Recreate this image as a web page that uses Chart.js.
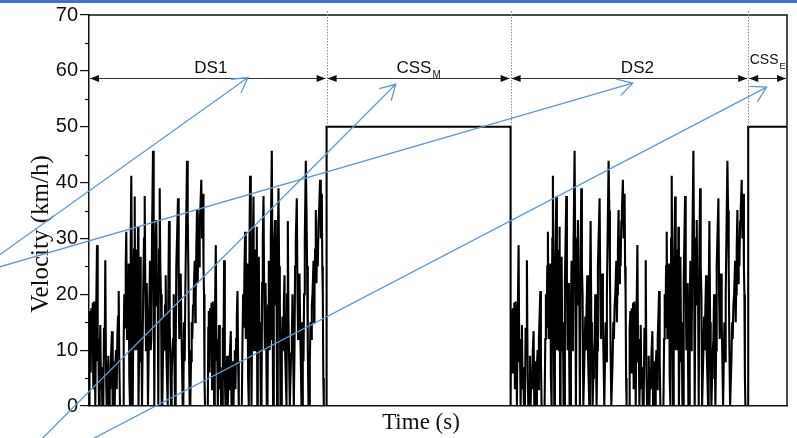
<!DOCTYPE html>
<html>
<head>
<meta charset="utf-8">
<title>Velocity profile</title>
<script src="https://cdn.jsdelivr.net/npm/chart.js@4.4.1/dist/chart.umd.min.js"></script>
<style>
  html, body { margin: 0; padding: 0; background: #fff; }
  canvas { display: block; }
</style>
</head>
<body>
<canvas id="chart" width="797" height="438"></canvas>
<script>
// one pass of the urban drive pattern (s, km/h) - each DS block holds two passes
const cycleTime = [
  0, 5, 10, 17, 23, 30, 37, 43, 50, 57, 63, 70, 80, 87, 93, 100, 107, 113, 120, 127,
  133, 143, 150, 157, 163, 170, 177, 187, 193, 200, 207, 213, 220, 230, 237, 243, 250, 257, 263, 270,
  277, 283, 290, 297, 303, 310, 340, 347, 353, 360, 367, 373, 380, 387, 393, 397, 403, 410, 417, 423,
  430, 437, 443, 450, 457, 463, 470, 475, 480, 485, 490, 495, 500, 505, 510, 517, 523, 530, 537, 543,
  550, 557, 563, 570, 577, 583, 590, 597, 603, 610, 617, 623, 630, 640, 647, 653, 660, 667, 673, 680,
  687, 693, 700, 707, 713, 720, 727, 733, 740, 747, 753, 760, 767, 773, 780, 787, 793, 800, 807, 813,
  820, 827, 833, 840, 847, 853, 860, 867, 873, 880, 890, 897, 903, 910, 917, 923, 930, 937, 943, 950,
  957, 963, 970, 980, 987, 993, 1000, 1007, 1013, 1020, 1027, 1033, 1040, 1047, 1057, 1063, 1067, 1073, 1080, 1087,
  1093, 1100, 1107, 1113, 1123, 1130, 1140, 1145, 1150, 1155, 1160, 1188
]
const cycleSpeed = [
  0, 14, 17, 6, 17.5, 10, 18.5, 3, 18.7, 12, 0, 14, 28.8, 8, 12, 0, 8, 14.5, 3, 7,
  0, 0, 14, 9, 26.1, 6, 0, 4, 9, 0, 6, 3, 9, 13.4, 0, 5, 8, 0, 7, 10,
  3, 12, 16, 20.6, 8, 0, 0, 12, 20, 14, 25, 31.2, 12, 22, 18, 25.5, 5, 0, 30, 41.2,
  20, 0, 15, 28, 37.5, 10, 24, 18, 28, 10, 32.1, 0, 8, 15, 26.7, 10, 15, 0, 0, 22,
  30, 37.6, 22, 10, 22, 15, 0, 0, 18, 26, 10, 12, 30, 45.7, 25, 0, 22, 30, 33.3, 18,
  20, 0, 28, 39, 25, 20, 0, 0, 10, 16, 10, 18, 23.4, 10, 5, 0, 20, 33.1, 15, 8,
  0, 5, 9.4, 12, 20, 10, 0, 10, 25, 30, 37.2, 20, 12, 20, 23.7, 15, 8, 0, 0, 15,
  8, 20, 30, 43.9, 35, 25, 10, 0, 0, 8, 15, 12, 18, 20, 26, 15, 20, 28, 35.1, 22,
  30, 25, 33, 35, 40.5, 30, 38, 25, 20, 5, 0, 0
]

// test phases
const phaseNames  = ['DS1', 'CSS', 'DS2', 'CSS']
const phaseSubs   = ['', 'M', '', 'E']
const phaseStart  = [0, 2376, 4216, 6592]
const phaseEnd    = [2376, 4216, 6592, 6980]
const cruiseSpeed = 50

// axis
const timeMax     = 6980
const yTicks      = [0, 10, 20, 30, 40, 50, 60, 70]
const yMinorTicks = [5, 15, 25, 35, 45, 55, 65]

// blue callout arrows, tail -> tip in (s, km/h)
const calloutFrom = [[-993, 25.8], [-993, 24.4], [-600, -8.2], [-93, -7.1]]
const calloutTo   = [[1590, 58.8], [5437, 57.8], [3067, 57.6], [6777, 57.1]]

// build the trace from the phases
let trace = []
phaseNames.forEach(function (name, i) {
  let t0 = phaseStart[i],
      t1 = phaseEnd[i]
  if (name.indexOf('DS') === 0) {
    let len = (t1 - t0) / 2
    for (let k = 0; k < 2; k++) {
      cycleTime.forEach(function (t, j) {
        trace.push({x: t0 + k * len + t, y: cycleSpeed[j]})
      })
    }
  } else {
    trace.push({x: t0, y: 0}, {x: t0, y: cruiseSpeed}, {x: t1, y: cruiseSpeed})
    if (t1 < timeMax) trace.push({x: t1, y: 0})
  }
})

function fillHead (ctx, x, y, dir) {
  ctx.beginPath()
  ctx.moveTo(x, y)
  ctx.lineTo(x - dir * 9, y - 3.5)
  ctx.lineTo(x - dir * 9, y + 3.5)
  ctx.closePath()
  ctx.fill()
}

const overlay = {
  id: 'overlay',
  beforeDraw (chart) {
    let ctx = chart.ctx
    ctx.save()
    ctx.fillStyle = '#4472c4'
    ctx.fillRect(0, 0, chart.width, 3)
    ctx.restore()
  },
  afterDatasetsDraw (chart) {
    let ctx = chart.ctx,
        a   = chart.chartArea,
        x   = chart.scales.x,
        y   = chart.scales.y
    ctx.save()

    //Frame top + right
    ctx.strokeStyle = '#111'
    ctx.lineWidth = 1.5
    ctx.beginPath()
    ctx.moveTo(a.left, a.top)
    ctx.lineTo(a.right, a.top)
    ctx.lineTo(a.right, a.bottom)
    ctx.stroke()

    //Minor ticks
    ctx.lineWidth = 1.2
    yMinorTicks.forEach(function (v) {
      let py = Math.round(y.getPixelForValue(v)) + 0.5
      ctx.beginPath()
      ctx.moveTo(a.left - 4, py)
      ctx.lineTo(a.left, py)
      ctx.stroke()
    })

    //Dotted phase dividers
    ctx.strokeStyle = '#8a8a8a'
    ctx.lineWidth = 1
    ctx.setLineDash([1.5, 1.5])
    phaseStart.slice(1).forEach(function (t) {
      let px = Math.round(x.getPixelForValue(t)) + 0.5
      ctx.beginPath()
      ctx.moveTo(px, a.top - 4)
      ctx.lineTo(px, y.getPixelForValue(cruiseSpeed))
      ctx.stroke()
    })
    ctx.setLineDash([])

    //Phase arrows + labels
    let ay = Math.round(y.getPixelForValue(58.7)) + 0.5
    ctx.strokeStyle = '#333'
    ctx.fillStyle = '#111'
    phaseNames.forEach(function (name, i) {
      let x0 = x.getPixelForValue(phaseStart[i]) + 1,
          x1 = x.getPixelForValue(phaseEnd[i]) - 1,
          mid = (x0 + x1) / 2,
          small = i === 3
      ctx.beginPath()
      ctx.moveTo(x0, ay)
      ctx.lineTo(x1, ay)
      ctx.stroke()
      fillHead(ctx, x0, ay, -1)
      fillHead(ctx, x1, ay, 1)

      let size = small ? 14 : 17,
          base = small ? ay - 15 : ay - 6
      ctx.font = size + 'px "Liberation Sans", Arial, sans-serif'
      ctx.textBaseline = 'alphabetic'
      let w = ctx.measureText(name).width,
          subW = 0
      if (phaseSubs[i]) {
        ctx.font = (small ? 9 : 10) + 'px "Liberation Sans", Arial, sans-serif'
        subW = ctx.measureText(phaseSubs[i]).width + 1
      }
      let left = mid - (w + subW) / 2 + (i === 2 ? 8 : i === 0 ? 3 : 0)
      ctx.font = size + 'px "Liberation Sans", Arial, sans-serif'
      ctx.textAlign = 'left'
      ctx.fillText(name, left, base)
      if (phaseSubs[i]) {
        ctx.font = (small ? 9 : 10) + 'px "Liberation Sans", Arial, sans-serif'
        ctx.fillText(phaseSubs[i], left + w + 1, base + 5)
      }
    })

    //Axis titles
    ctx.fillStyle = '#111'
    ctx.font = '25px "Liberation Serif", "Times New Roman", serif'
    ctx.textAlign = 'center'
    ctx.textBaseline = 'middle'
    ctx.save()
    ctx.translate(41, 234)
    ctx.rotate(-Math.PI / 2)
    ctx.fillText('Velocity (km/h)', 0, 0)
    ctx.restore()
    ctx.font = '23px "Liberation Serif", "Times New Roman", serif'
    ctx.fillText('Time (s)', 421, 423)

    //Blue callouts
    ctx.strokeStyle = '#5b9bd5'
    ctx.lineWidth = 1.3
    calloutFrom.forEach(function (p, i) {
      let q  = calloutTo[i],
          x0 = x.getPixelForValue(p[0]),
          y0 = y.getPixelForValue(p[1]),
          x1 = x.getPixelForValue(q[0]),
          y1 = y.getPixelForValue(q[1]),
          ang = Math.atan2(y0 - y1, x0 - x1)
      ctx.beginPath()
      ctx.moveTo(x0, y0)
      ctx.lineTo(x1, y1)
      ctx.moveTo(x1 + 17 * Math.cos(ang - 0.52), y1 + 17 * Math.sin(ang - 0.52))
      ctx.lineTo(x1, y1)
      ctx.lineTo(x1 + 17 * Math.cos(ang + 0.52), y1 + 17 * Math.sin(ang + 0.52))
      ctx.stroke()
    })

    ctx.restore()
  }
}

new Chart(document.getElementById('chart'), {
  type   : 'scatter',
  data   : {
    datasets: [{
      label      : 'Velocity',
      data       : trace,
      showLine   : true,
      borderColor: '#000',
      borderWidth: 2.1,
      pointRadius: 0,
      tension    : 0
    }]
  },
  options: {
    responsive      : false,
    animation       : false,
    devicePixelRatio: 1,
    layout          : {padding: {top: 15, right: 10, left: 0, bottom: 0}},
    plugins         : {legend: {display: false}, tooltip: {enabled: false}},
    scales          : {
      x: {
        type    : 'linear',
        min     : 0,
        max     : timeMax,
        ticks   : {display: false},
        grid    : {display: false},
        border  : {color: '#111', width: 1.5},
        afterFit: function (s) { s.height = 32 }
      },
      y: {
        min     : 0,
        max     : 70,
        afterBuildTicks: function (s) { s.ticks = yTicks.map(function (v) { return {value: v} }) },
        ticks   : {
          color : '#111',
          padding: 2,
          font  : {family: '"Liberation Sans", Arial, sans-serif', size: 20}
        },
        grid    : {display: true, drawOnChartArea: false, drawTicks: true, tickLength: 9, color: '#111', lineWidth: 1.2},
        border  : {color: '#111', width: 1.5},
        afterFit: function (s) { s.width = 89 }
      }
    }
  },
  plugins: [overlay]
})
</script>
</body>
</html>
